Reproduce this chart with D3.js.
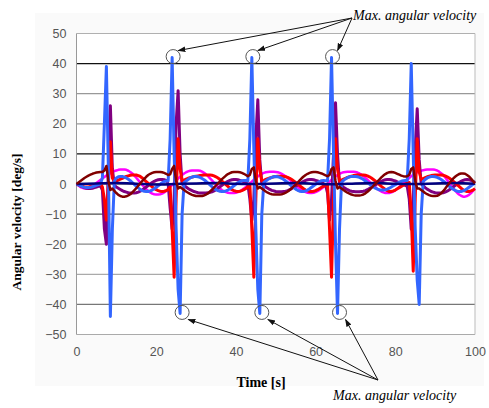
<!DOCTYPE html>
<html><head><meta charset="utf-8">
<script src="https://cdn.jsdelivr.net/npm/d3@7"></script>
<style>body{margin:0;background:#fff}svg{display:block}</style>
</head><body><svg id="c" width="489" height="408"></svg>
<script>
// ---- data (sampled every 0.5 s, t = 0 .. 100) ----
const time = d3.range(0, 100.5, 0.5);
const yTicks = [50,40,30,20,10,0,-10,-20,-30,-40,-50];
const xTicks = [0,20,40,60,80,100];
const blueValues = [
0,-0.3,-0.6,-0.9,-1.1,-1.2,-1.2,-1.1,-0.9,-0.7,-0.4,-0.2,0,2,20,39,5,-44,-15,1,
2,2.4,2.5,2.5,2.3,2,1.6,1.1,0.5,-0.1,-0.7,-1.3,-1.8,-2.2,-2.4,-2.5,-2.5,-2.3,-2,-1.6,
-1.1,-0.6,-0.1,0.4,0.8,1,1,15,42,10,-15,-35,-43,-10,0.5,1,1.5,2,2.3,2.5,
2.5,2.4,2.2,1.8,1.4,0.9,0.3,-0.3,-0.9,-1.4,-1.9,-2.2,-2.4,-2.5,-2.5,-2.3,-2,-1.6,-1.1,-0.6,
-0.1,0.4,0.8,1.1,1.2,1.2,1,15,42,12,-15,-35,-43,-10,0.5,1,1.5,1.9,2.2,2.4,
2.5,2.4,2.2,1.9,1.5,1,0.5,-0.1,-0.7,-1.2,-1.7,-2.1,-2.4,-2.5,-2.5,-2.3,-2,-1.6,-1.1,-0.6,
-0.1,0.4,0.8,1.1,1.2,1.1,1,15,42,10,-20,-43,-15,0.5,1.2,1.7,2.1,2.4,2.5,2.5,
2.5,2.4,2.2,1.9,1.5,1,0.5,0,-0.5,-1,-1.4,-1.7,-1.9,-2,-2,-1.9,-1.7,-1.4,-1,-0.6,
-0.2,0.2,0.6,0.9,1.1,1.2,1.2,15,40,10,-15,-32,-40,-10,0.8,1.5,2,2.3,2.5,2.5,
2.4,2.2,1.9,1.5,1,0.5,-0.1,-0.7,-1.2,-1.7,-2.1,-2.4,-2.5,-2.5,-2.3,-2,-1.6,-1.1,-0.6,-0.1,
0.3];
const purpleValues = [
0,-0.3,-0.6,-0.9,-1.2,-1.4,-1.5,-1.5,-1.4,-1.2,-1,-0.8,-0.6,-2,-15,-20,5,26,5,-0.5,
-1,-1.4,-1.8,-2.2,-2.5,-2.7,-2.9,-3,-3,-3,-2.9,-2.7,-2.4,-2,-1.5,-1,-0.5,0,0.5,0.9,
1.2,1.4,1.5,1.5,1.4,1.2,0,-8,-15,-5,20,31,10,0,-0.5,-1,-1.5,-1.9,-2.2,-2.5,
-2.7,-2.9,-3,-3,-3,-3,-2.9,-2.8,-2.6,-2.3,-1.9,-1.4,-0.9,-0.4,0.1,0.5,0.9,1.2,1.4,1.5,
1.5,1.4,1.2,1,0.7,0.4,0,-5,-12,-5,15,28,8,0,-0.5,-1,-1.4,-1.8,-2.1,-2.3,
-2.5,-2.6,-2.6,-2.6,-2.5,-2.4,-2.2,-1.9,-1.5,-1.1,-0.7,-0.3,0.1,0.5,0.9,1.2,1.4,1.5,1.5,1.4,
1.2,1,0.7,0.4,0.1,-0.3,-3,-12,-5,10,27,10,0,-0.6,-1.1,-1.5,-1.9,-2.2,-2.4,-2.5,
-2.6,-2.6,-2.6,-2.5,-2.4,-2.2,-1.9,-1.5,-1.1,-0.7,-0.3,0.1,0.5,0.9,1.2,1.4,1.5,1.5,1.4,1.2,
1,0.7,0.4,0.1,-0.2,-0.5,-0.8,-5,-15,-5,12,25,8,0,-0.6,-1.2,-1.7,-2.1,-2.5,-2.7,
-2.9,-3,-3,-3,-2.9,-2.7,-2.4,-2,-1.5,-1,-0.5,0,0.5,0.9,1.2,1.4,1.5,1.4,1.2,0.9,
0.5];
const redValues = [
0,-0.3,-0.6,-0.8,-1,-1,-1,-0.8,-0.6,-0.4,-0.2,0,0.2,-1,-5,-12,0,14,2,0.8,
1,1.3,1.6,1.9,2.2,2.5,2.7,2.9,3,3,3,2.8,2.5,2,1.4,0.8,0.2,-0.4,-1,-1.5,
-1.9,-2.2,-2.4,-2.5,-2.4,-2.2,-1.8,-1,-15,-31,-5,15,5,1,1.3,1.6,1.9,2.1,2.3,2.5,
2.6,2.7,2.8,2.9,3,3,3,3,2.9,2.7,2.4,2,1.5,1,0.4,-0.2,-0.8,-1.4,-1.9,-2.2,
-2.4,-2.5,-2.4,-2.2,-1.9,-1.5,-1,0,-15,-31,-5,15,5,1,1.2,1.5,1.8,2,2.2,2.4,
2.5,2.6,2.6,2.6,2.5,2.4,2.2,1.9,1.5,1,0.5,0,-0.6,-1.1,-1.6,-2,-2.3,-2.5,-2.5,-2.4,
-2.2,-1.9,-1.5,-1.1,-0.7,-0.3,0,-15,-31,-5,15,5,1,1.3,1.6,1.9,2.2,2.4,2.6,2.8,
2.9,3,3,3,3,2.9,2.7,2.4,2,1.5,1,0.4,-0.2,-0.8,-1.3,-1.8,-2.2,-2.5,-2.5,-2.3,
-2,-1.6,-1.2,-0.8,-0.4,0,0.3,0.5,-10,-29,-5,15,4,1.5,1.8,2.1,2.4,2.6,2.8,2.9,
3,3,3,3,2.9,2.7,2.4,2,1.5,1,0.4,-0.2,-0.8,-1.4,-1.9,-2.3,-2.5,-2.5,-2.3,-2,
-1.6];
const magentaValues = [
0,-0.5,-1,-1.3,-1.5,-1.5,-1.3,-1,-0.6,-0.2,0.3,0.8,1.3,1.8,2.3,2.8,3.2,3.6,4,4.3,
4.5,4.7,4.8,4.8,4.8,4.7,4.4,4,3.5,2.8,2.1,1.3,0.5,-0.3,-1,-1.7,-2.3,-2.8,-3.2,-3.4,
-3.5,-3.5,-3.4,-3.2,-2.8,-2.3,-1.7,-1,-0.3,0.4,1.1,1.8,2.4,3,3.5,3.9,4.2,4.4,4.5,4.5,
4.5,4.5,4.4,4.1,3.7,3.2,2.6,1.9,1.2,0.5,-0.2,-0.9,-1.5,-2,-2.4,-2.7,-2.9,-3,-3,-3,
-2.9,-2.7,-2.4,-2,-1.5,-1,-0.4,0.2,0.8,1.4,2,2.5,3,3.4,3.7,3.9,4,4.1,4.1,4.1,
4,3.9,3.7,3.4,3,2.5,2,1.4,0.8,0.2,-0.4,-1,-1.5,-2,-2.4,-2.7,-2.9,-3,-3,-2.9,
-2.7,-2.4,-2,-1.5,-1,-0.4,0.2,0.8,1.4,2,2.5,3,3.4,3.7,3.9,4,4.1,4.1,4.1,4.1,
4,3.8,3.5,3.1,2.6,2,1.4,0.8,0.2,-0.4,-1,-1.6,-2.1,-2.5,-2.8,-3,-3,-3,-2.8,-2.5,
-2.1,-1.6,-1,-0.4,0.2,0.8,1.4,2,2.6,3.1,3.5,3.9,4.2,4.4,4.6,4.7,4.8,4.8,4.8,4.8,
4.7,4.5,4.1,3.6,3,2.2,1.3,0.4,-0.5,-1.4,-2.2,-2.9,-3.5,-3.9,-4.2,-4.2,-4,-3.6,-3,-2.3,
-1.5];
const maroonValues = [
0,0.5,1,1.5,2,2.4,2.8,3.1,3.4,3.6,3.8,3.9,4,4,4.5,6,1,-2,-1.5,-2.3,
-3,-3.6,-4,-4.2,-4.2,-4.1,-3.8,-3.4,-2.8,-2.1,-1.4,-0.6,0.2,1,1.7,2.4,3,3.4,3.7,3.9,
4,4,4,3.9,3.7,3.4,3,3.2,5,6,1,-1.5,-1,-1.5,-2,-2.5,-2.9,-3.3,-3.6,-3.8,
-4,-4,-4,-4,-3.8,-3.5,-3.1,-2.5,-1.9,-1.2,-0.5,0.2,0.9,1.6,2.2,2.8,3.3,3.6,3.9,4,
4,4,3.9,3.7,3.4,3,2.6,3,5,5.5,1,-1.5,-1,-1.5,-2,-2.5,-2.9,-3.2,-3.4,-3.5,
-3.5,-3.5,-3.5,-3.4,-3.2,-2.9,-2.5,-2,-1.4,-0.8,-0.2,0.5,1.2,1.9,2.5,3,3.4,3.7,3.9,4,
4,3.9,3.7,3.5,3.2,2.9,2.6,3,5,5.5,1,-1.5,-1,-1.5,-2,-2.5,-2.9,-3.2,-3.5,-3.7,
-3.8,-3.8,-3.8,-3.7,-3.5,-3.1,-2.6,-2,-1.3,-0.6,0.1,0.8,1.5,2.2,2.8,3.3,3.7,3.9,4,3.9,
3.7,3.4,3.1,2.8,2.6,2.5,2.6,3,5,5.5,1,-1.5,-1.5,-2,-2.5,-3,-3.4,-3.7,-3.9,-4,
-4,-3.9,-3.6,-3.1,-2.4,-1.6,-0.7,0.2,1,1.8,2.4,2.9,3.3,3.5,3.5,3.4,3,2.5,1.8,1,
0.2];
const navyTime = [0,5,10,15,20,25,30,35,40,45,50,55,60,65,70,75,80,85,90,95,100];
const navyValues = [0,0.2,0.3,0.1,-0.2,0,0.2,0.3,0.1,0,0.2,0.3,0.1,-0.1,0.2,0.3,0.1,0,0.2,0.3,0.1];
const annotation = "Max. angular velocity";
const peakTimes = [24, 44, 64];
const troughTimes = [26, 46, 65.5];

// ---- layout ----
const svg = d3.select("#c");
const m = {l:76.5, r:475, t:33.5, b:334.5};
const x = d3.scaleLinear().domain([0,100]).range([m.l, m.r]);
const y = d3.scaleLinear().domain([-50,50]).range([m.b, m.t]);

svg.append("rect").attr("x",35).attr("y",13).attr("width",449).attr("height",373).attr("fill","#fafafa");
svg.append("rect").attr("x",m.l).attr("y",m.t).attr("width",m.r-m.l).attr("height",m.b-m.t).attr("fill","#fff");

const gridColor = {"50":"#b0b0b0","40":"#111","30":"#999","20":"#999","10":"#111","0":"#222",
  "-10":"#555","-20":"#888","-30":"#aaa","-40":"#777","-50":"#aaa"};
svg.append("g").selectAll("line").data(yTicks).join("line")
  .attr("x1",m.l).attr("x2",m.r).attr("y1",d=>y(d)).attr("y2",d=>y(d))
  .attr("stroke",d=>gridColor[String(d)]).attr("stroke-width",1.2);
svg.append("line").attr("x1",m.l).attr("x2",m.l).attr("y1",m.t).attr("y2",m.b).attr("stroke","#999");
svg.append("line").attr("x1",m.r).attr("x2",m.r).attr("y1",m.t).attr("y2",m.b).attr("stroke","#bbb");

// axes (labels only)
const yAxis = d3.axisLeft(y).tickValues(yTicks).tickSize(0).tickPadding(10)
  .tickFormat(d => d < 0 ? "\u2212" + Math.abs(d) : String(d));
const gy = svg.append("g").attr("transform",`translate(${m.l},0)`).call(yAxis);
gy.select(".domain").remove();
gy.selectAll("text").attr("font-family","Liberation Sans, Arial, sans-serif").attr("font-size",12.5).attr("fill","#555");
const xAxis = d3.axisBottom(x).tickValues(xTicks).tickSize(0).tickPadding(13);
const gx = svg.append("g").attr("transform",`translate(0,${m.b})`).call(xAxis);
gx.select(".domain").remove();
gx.selectAll("text").attr("font-family","Liberation Sans, Arial, sans-serif").attr("font-size",12.5).attr("fill","#555");

// series
const line = d3.line().x((d,i)=>x(time[i])).y(d=>y(d));
const series = [
  {v:magentaValues, c:"#ff00ff", w:2.5},
  {v:purpleValues, c:"#800080", w:3},
  {v:redValues, c:"#ff0000", w:3},
  {v:blueValues, c:"#3366ff", w:3},
];
const plot = svg.append("g");
series.forEach(s => plot.append("path").attr("d", line(s.v)).attr("fill","none")
  .attr("stroke",s.c).attr("stroke-width",s.w).attr("stroke-linejoin","round"));
plot.append("path").attr("d", d3.line().x((d,i)=>x(navyTime[i])).y(d=>y(d)).curve(d3.curveMonotoneX)(navyValues))
  .attr("fill","none").attr("stroke","#000080").attr("stroke-width",2.5);
plot.append("path").attr("d", line(maroonValues)).attr("fill","none")
  .attr("stroke","#800000").attr("stroke-width",2.5).attr("stroke-linejoin","round");

// axis titles
svg.append("text").attr("transform","translate(21,222) rotate(-90)").attr("text-anchor","middle")
  .attr("font-family","Liberation Serif, Times New Roman, serif").attr("font-weight","bold").attr("font-size",13.5)
  .text("Angular velocity [deg/s]");
svg.append("text").attr("x",261).attr("y",387).attr("text-anchor","middle")
  .attr("font-family","Liberation Serif, Times New Roman, serif").attr("font-weight","bold").attr("font-size",14)
  .text("Time [s]");

// annotations
const defs = svg.append("defs");
defs.append("marker").attr("id","ah").attr("viewBox","0 0 10 10").attr("refX",9).attr("refY",5)
  .attr("markerWidth",8).attr("markerHeight",8).attr("orient","auto")
  .append("path").attr("d","M0,1.5L10,5L0,8.5z").attr("fill","#111");
const circG = svg.append("g");
peakTimes.forEach(t => circG.append("circle").attr("cx",x(t)+1).attr("cy",y(42)-1).attr("r",7)
  .attr("fill","none").attr("stroke","#555").attr("stroke-width",1));
troughTimes.forEach(t => circG.append("circle").attr("cx",x(t)+2).attr("cy",y(-43)-1).attr("r",7)
  .attr("fill","none").attr("stroke","#555").attr("stroke-width",1));
const topO = [352, 18], botO = [378, 380];
peakTimes.forEach(t => svg.append("line").attr("x1",topO[0]).attr("y1",topO[1])
  .attr("x2",x(t)+6).attr("y2",y(42)-7).attr("stroke","#111").attr("stroke-width",1).attr("marker-end","url(#ah)"));
troughTimes.forEach(t => svg.append("line").attr("x1",botO[0]).attr("y1",botO[1])
  .attr("x2",x(t)+8).attr("y2",y(-43)+6).attr("stroke","#111").attr("stroke-width",1).attr("marker-end","url(#ah)"));
svg.append("text").attr("x",353).attr("y",20).attr("font-family","Liberation Serif, Times New Roman, serif")
  .attr("font-style","italic").attr("font-size",14).text(annotation);
svg.append("text").attr("x",333).attr("y",400).attr("font-family","Liberation Serif, Times New Roman, serif")
  .attr("font-style","italic").attr("font-size",14).text(annotation);
</script></body></html>
